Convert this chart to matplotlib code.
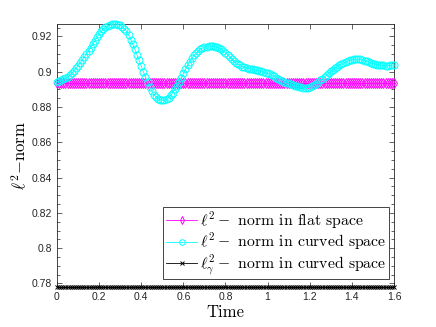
import numpy as np
import matplotlib
matplotlib.use("Agg")
import matplotlib.pyplot as plt
from matplotlib.ticker import MultipleLocator, FormatStrFormatter

plt.rcParams['mathtext.fontset'] = 'cm'
plt.rcParams['axes.unicode_minus'] = False

# time axis, step 0.01
time = np.round(np.arange(0, 1.6001, 0.01), 2)

# l2 norm in curved space
curved_norm = [
    0.8942, 0.8945, 0.8950, 0.8956, 0.8963, 0.8971, 0.8981, 0.8992, 0.9005, 0.9019,
    0.9034, 0.9050, 0.9066, 0.9083, 0.9100, 0.9117, 0.9135, 0.9155, 0.9175, 0.9195,
    0.9213, 0.9228, 0.9240, 0.9251, 0.9259, 0.9264, 0.9268, 0.9270, 0.9270, 0.9267,
    0.9262, 0.9254, 0.9244, 0.9228, 0.9207, 0.9182, 0.9155, 0.9126, 0.9096, 0.9064,
    0.9032, 0.9000, 0.8970, 0.8940, 0.8913, 0.8890, 0.8870, 0.8857, 0.8847, 0.8841,
    0.8838, 0.8839, 0.8843, 0.8852, 0.8865, 0.8881, 0.8900, 0.8920, 0.8941, 0.8965,
    0.8990, 0.9013, 0.9035, 0.9057, 0.9077, 0.9092, 0.9105, 0.9116, 0.9126, 0.9133,
    0.9138, 0.9142, 0.9144, 0.9145, 0.9144, 0.9142, 0.9138, 0.9133, 0.9126, 0.9117,
    0.9107, 0.9096, 0.9084, 0.9072, 0.9060, 0.9050, 0.9042, 0.9035, 0.9029, 0.9024,
    0.9020, 0.9017, 0.9015, 0.9013, 0.9011, 0.9008, 0.9005, 0.9002, 0.8998, 0.8994,
    0.8990, 0.8985, 0.8979, 0.8973, 0.8966, 0.8960, 0.8954, 0.8948, 0.8943, 0.8938,
    0.8934, 0.8929, 0.8925, 0.8921, 0.8917, 0.8914, 0.8911, 0.8910, 0.8909, 0.8909,
    0.8911, 0.8916, 0.8923, 0.8931, 0.8940, 0.8950, 0.8960, 0.8970, 0.8981, 0.8991,
    0.9001, 0.9011, 0.9020, 0.9029, 0.9037, 0.9044, 0.9050, 0.9055, 0.9060, 0.9064,
    0.9067, 0.9069, 0.9071, 0.9071, 0.9070, 0.9067, 0.9063, 0.9059, 0.9054, 0.9050,
    0.9046, 0.9043, 0.9040, 0.9038, 0.9036, 0.9035, 0.9034, 0.9034, 0.9035, 0.9037,
    0.9039,
]
flat_norm = [0.8937] * len(time)
gamma_norm = [0.778] * len(time)

xticks = [0, 0.2, 0.4, 0.6, 0.8, 1.0, 1.2, 1.4, 1.6]
yticks = [0.78, 0.80, 0.82, 0.84, 0.86, 0.88, 0.90, 0.92]

fig = plt.figure(figsize=(4.36, 3.27), dpi=100)
ax = fig.add_axes([0.1307, 0.1223, 0.773, 0.8043])

ax.plot(time, flat_norm, color='#ff00ff', marker='d', mfc='none', ms=5, mew=0.7, lw=0.6,
        clip_on=False, zorder=3, label=r'$\ell^2-$ norm in flat space')
ax.plot(time, curved_norm, color='#00ffff', marker='o', mfc='none', ms=5, mew=0.7, lw=0.6,
        clip_on=False, zorder=3, label=r'$\ell^2-$ norm in curved space')
ax.plot(time, gamma_norm, color='black', marker='x', ms=3, mew=0.7, lw=0.6,
        clip_on=False, zorder=4, label=r'$\ell^2_\gamma-$ norm in curved space')

ax.set_xlim(0, 1.6)
ax.set_ylim(0.778, 0.927)
ax.set_xticks(xticks)
ax.set_yticks(yticks)
ax.xaxis.set_major_formatter(FormatStrFormatter('%g'))
ax.yaxis.set_major_formatter(FormatStrFormatter('%g'))
ax.yaxis.set_minor_locator(MultipleLocator(0.005))
ax.tick_params(which='both', direction='in', top=True, right=True, colors='#262626',
               labelsize=7.5, labelfontfamily='Liberation Sans', width=0.5)
ax.tick_params(which='major', length=3.5)
ax.tick_params(which='minor', length=2)
for s in ax.spines.values():
    s.set_linewidth(0.6)
    s.set_color('#262626')

ax.set_xlabel('Time', fontsize=12, fontfamily='cmr10', labelpad=2)
ax.set_ylabel(r'$\ell^2$' + r'$-$' + 'norm', fontsize=12, fontfamily='cmr10', labelpad=2)

leg = ax.legend(loc='lower right', bbox_to_anchor=(0.985, 0.03),
                prop={'family': 'cmr10', 'size': 11.3}, markerscale=0.8,
                fancybox=False, edgecolor='#262626', framealpha=1,
                borderaxespad=0, handlelength=2.0, handletextpad=0.2,
                labelspacing=0.0, borderpad=0.15)
leg.get_frame().set_linewidth(0.6)

fig.savefig('out.png', dpi=100)
